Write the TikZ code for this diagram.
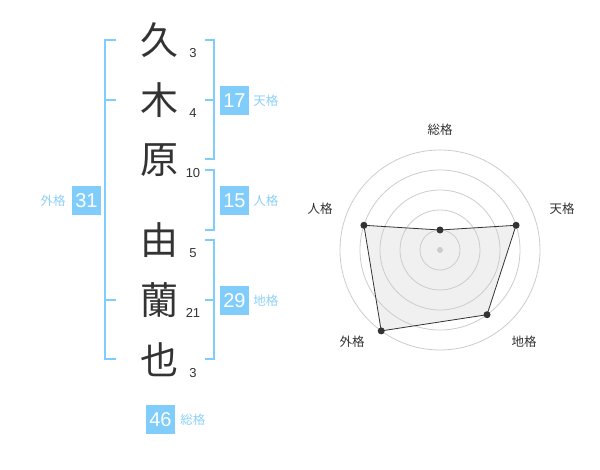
\documentclass[tikz,border=0pt]{standalone}
\usepackage{fontspec}
\setmainfont{Liberation Sans}
\newfontfamily\jpfont{Noto Sans CJK JP}
\usepackage{tikz}
\usetikzlibrary{positioning}
\definecolor{lineColor}{RGB}{128,204,250}
\definecolor{labelColor}{RGB}{140,208,248}
\definecolor{inkColor}{RGB}{51,51,51}
\definecolor{ringColor}{RGB}{204,204,204}
\definecolor{areaColor}{RGB}{240,240,240}
\tikzstyle{kanjiStyle} = [font=\jpfont\fontsize{38}{38}\selectfont, text=inkColor, inner sep=0pt]
\tikzstyle{strokeStyle} = [font=\fontsize{13}{13}\selectfont, text=inkColor, inner sep=0pt]
\tikzstyle{scoreStyle} = [fill=lineColor, text=white, font=\fontsize{20}{20}\selectfont, minimum size=29pt, inner sep=0pt]
\tikzstyle{kakuStyle} = [font=\jpfont\fontsize{12.5}{12.5}\selectfont, text=labelColor, inner sep=0pt]
\tikzstyle{bracketLine} = [color=lineColor, line width=2pt]
\tikzstyle{ringStyle} = [color=ringColor, line width=0.8pt]
\tikzstyle{areaStyle} = [fill=areaColor]
\tikzstyle{edgeStyle} = [draw=inkColor, line width=0.8pt, line join=round]
\tikzstyle{dotStyle} = [circle, fill=inkColor, minimum size=7pt, inner sep=0pt]
\tikzstyle{radarText} = [font=\jpfont\fontsize{12.5}{12.5}\selectfont, text=inkColor, inner sep=0pt]
\newcommand{\kanjiRow}[4]{\node [kanjiStyle] (kanji#1) at (159, #2) {#3}; \node [strokeStyle] (stroke#1) at (193, #2 + 13) {#4};}
\newcommand{\scoreBox}[4]{\node [scoreStyle] (box#1) at (#2, #3) {#4};}
\newcommand{\radarPoint}[3]{\coordinate (#1) at ([shift={(#2:#3)}]hub);}

\begin{document}
\begin{tikzpicture}[x = 1pt, y = -1pt]
  \useasboundingbox (0,0) rectangle (600,470);
  % name
  \kanjiRow{1}{40}{久}{3}
  \kanjiRow{2}{100}{木}{4}
  \kanjiRow{3}{160}{原}{10}
  \kanjiRow{4}{240}{由}{5}
  \kanjiRow{5}{300}{蘭}{21}
  \kanjiRow{6}{360}{也}{3}
  % brackets
  \draw [bracketLine] (116,40) -- (105,40) -- (105,359) -- (116,359);
  \draw [bracketLine] (105,100) -- (116,100);
  \draw [bracketLine] (105,300) -- (116,300);
  \draw [bracketLine] (205,40) -- (214,40) -- (214,159) -- (205,159);
  \draw [bracketLine] (205,100) -- (214,100);
  \draw [bracketLine] (205,170) -- (214,170) -- (214,230) -- (205,230);
  \draw [bracketLine] (205,240) -- (214,240) -- (214,359) -- (205,359);
  \draw [bracketLine] (205,300) -- (214,300);
  % scores
  \scoreBox{Ten}{234.5}{100.5}{17}
  \scoreBox{Jin}{234.5}{200.5}{15}
  \scoreBox{Chi}{234.5}{300.5}{29}
  \scoreBox{Gai}{86.5}{200.5}{31}
  \scoreBox{Sou}{160.5}{419.5}{46}
  \node [kakuStyle, right = 4pt of boxTen] (kakuTen) {天格};
  \node [kakuStyle, right = 4pt of boxJin] (kakuJin) {人格};
  \node [kakuStyle, right = 4pt of boxChi] (kakuChi) {地格};
  \node [kakuStyle, left = 6pt of boxGai] (kakuGai) {外格};
  \node [kakuStyle, right = 5pt of boxSou] (kakuSou) {総格};
  % radar
  \coordinate (hub) at (440,250);
  \radarPoint{pSou}{-90}{20}
  \radarPoint{pTen}{-18}{80}
  \radarPoint{pChi}{54}{80}
  \radarPoint{pGai}{126}{100}
  \radarPoint{pJin}{198}{80}
  \fill [areaStyle] (pSou) -- (pTen) -- (pChi) -- (pGai) -- (pJin) -- cycle;
  \foreach \r in {20,40,...,100}
    \draw [ringStyle] (hub) circle (\r pt);
  \draw [edgeStyle] (pSou) -- (pTen) -- (pChi) -- (pGai) -- (pJin) -- cycle;
  \foreach \p in {pSou,pTen,pChi,pGai,pJin}
    \node [dotStyle] (dot\p) at (\p) {};
  \node [circle, fill=ringColor, minimum size=6pt, inner sep=0pt] (hubDot) at (hub) {};
  \node [radarText] (axisSou) at (440,130) {総格};
  \node [radarText] (axisTen) at (562,209) {天格};
  \node [radarText] (axisChi) at (524,342) {地格};
  \node [radarText] (axisGai) at (352,342) {外格};
  \node [radarText] (axisJin) at (320,209) {人格};
\end{tikzpicture}
\end{document}
